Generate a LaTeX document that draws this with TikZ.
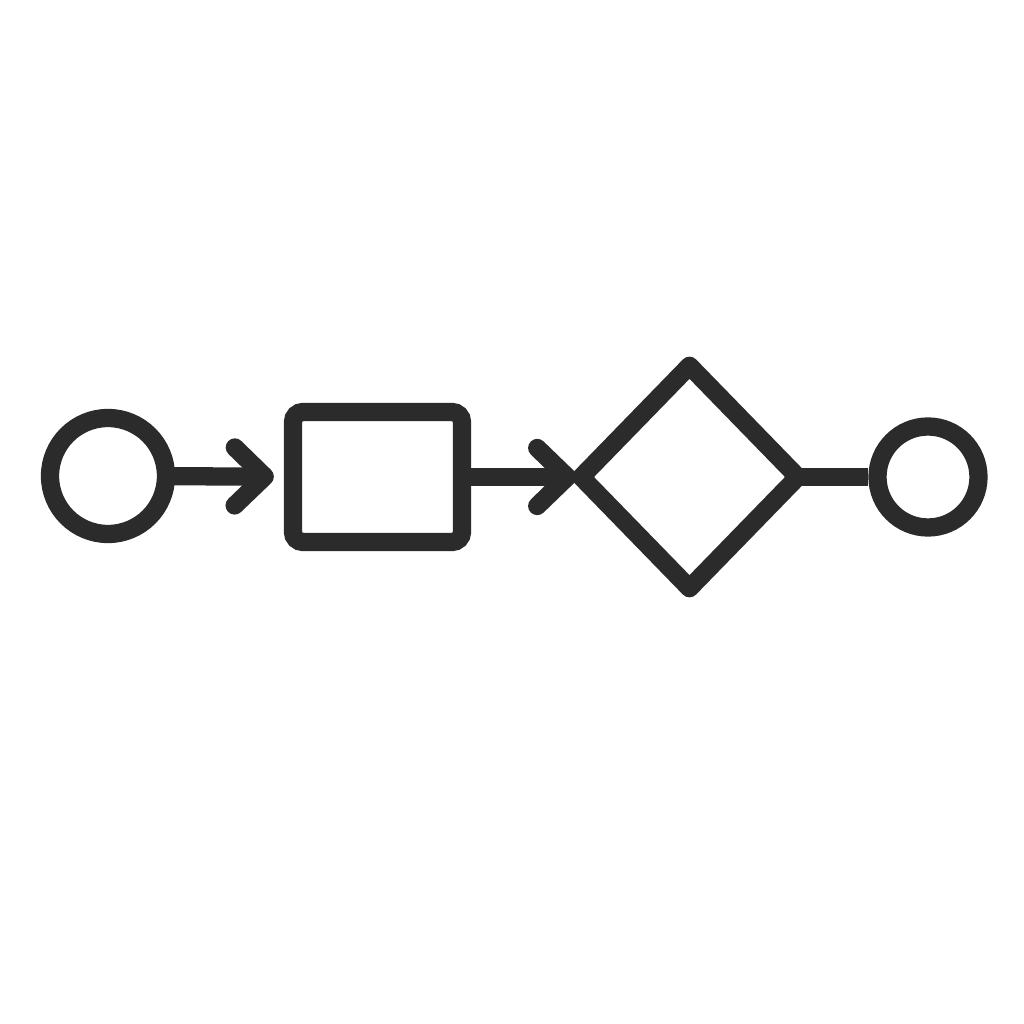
\documentclass[tikz,border=0pt]{standalone}
\usepackage{tikz}
\usetikzlibrary{arrows.meta}
\usetikzlibrary{shapes.geometric}
\definecolor{ink}{HTML}{2B2B2B}
\tikzset{
  event/.style={circle, draw=ink, line width=5.2pt, inner sep=0pt},
  flow/.style={draw=ink, line width=5.2pt, line cap=round,
    -{Straight Barb[length=3mm, width=5.8mm, round]}},
}

\begin{document}
\begin{tikzpicture}
\useasboundingbox (0,0) rectangle (10.24,10.24);
\node[event, minimum size=1.16cm] (start) at (1.08,5.48) {};
\node[draw=ink, line width=5.2pt, rounded corners=1mm, inner sep=0pt,
  minimum width=1.69cm, minimum height=1.30cm] (task) at (3.775,5.47) {};
\node[diamond, draw=ink, line width=5.2pt, line join=round, inner sep=0pt,
  minimum width=2.24cm, minimum height=2.3cm] (gate) at (6.895,5.47) {};
\node[event, minimum size=1.01cm] (end) at (9.28,5.47) {};
\draw[flow, shorten >=1mm] (start) -- (task);
\draw[flow, shorten >=-0.8mm] (task) -- (gate);
\draw[ink, line width=5.2pt, shorten <=-2mm] (gate) -- (end);
\end{tikzpicture}
\end{document}
